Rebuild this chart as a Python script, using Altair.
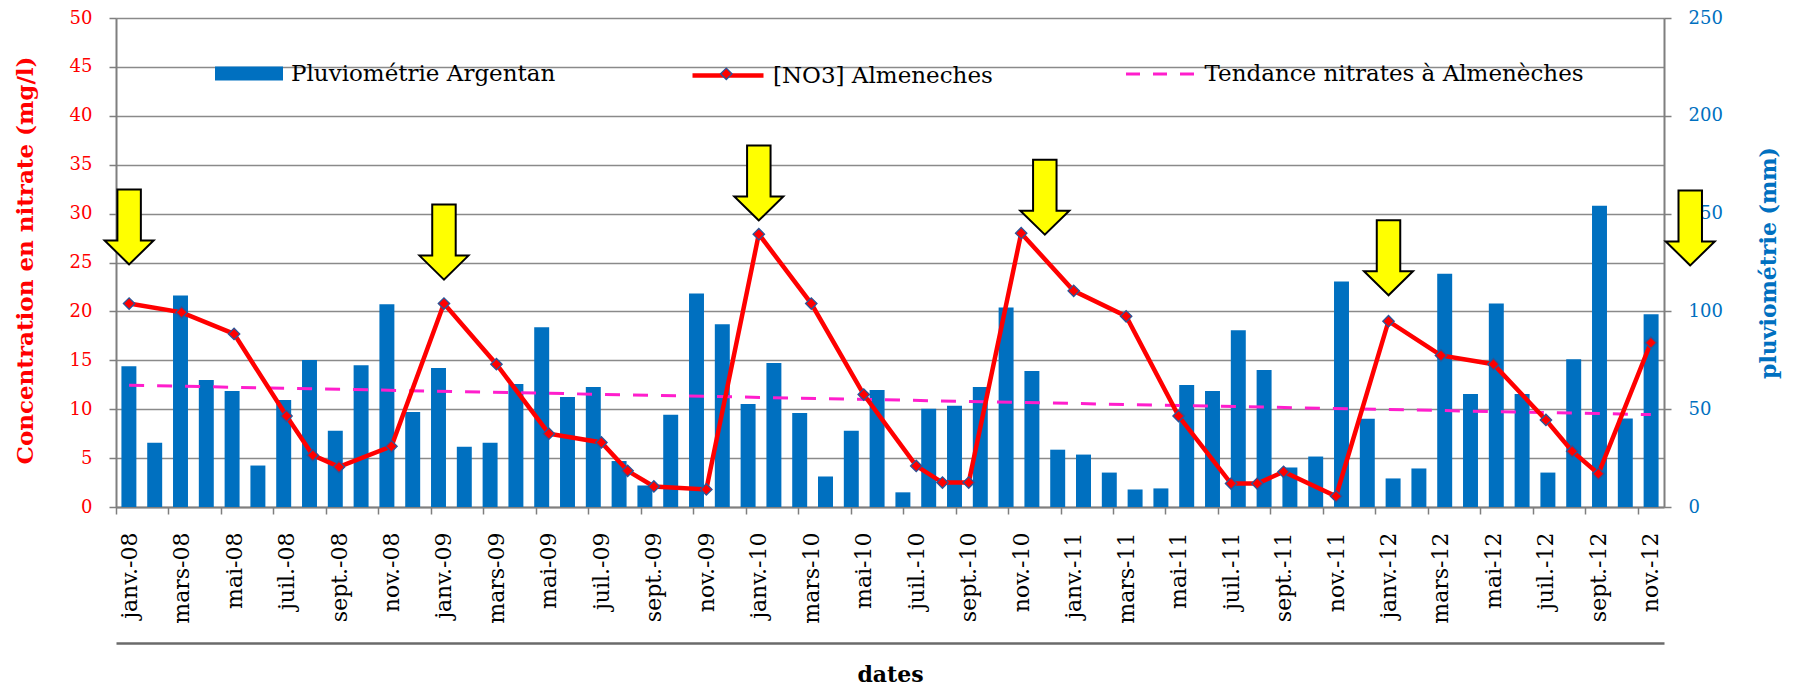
import altair as alt
import pandas as pd

# ---------------- data ----------------
mois_noms = ["janv.", "févr.", "mars", "avr.", "mai", "juin",
             "juil.", "août", "sept.", "oct.", "nov.", "déc."]
annees = ["08", "09", "10", "11", "12"]
mois_pluie = [f"{m}-{a}" for a in annees for m in mois_noms]      # 60 months (bars)
mois_axe = mois_pluie[:59]                                          # janv.-08 .. nov.-12
mois_etiquettes = mois_axe[::2]

pluie_mm = [72.0, 32.9, 108.1, 64.9, 59.3, 21.2, 54.7, 75.1, 39.0, 72.5, 103.6, 48.6,
            71.0, 30.8, 32.9, 62.9, 91.9, 56.3, 61.4, 23.5, 11.0, 47.1, 109.2, 93.4,
            52.7, 73.6, 48.1, 15.6, 39.0, 59.8, 7.5, 50.2, 51.7, 61.4, 102.0, 69.5,
            29.3, 26.8, 17.6, 9.0, 9.5, 62.4, 59.3, 90.3, 70.0, 20.2, 25.8, 115.3,
            45.1, 14.6, 19.7, 119.3, 57.8, 104.1, 57.8, 17.6, 75.6, 154.0, 45.3, 98.6]

no3_mois = ["janv.-08", "mars-08", "mai-08", "juil.-08", "août-08", "sept.-08", "nov.-08",
            "janv.-09", "mars-09", "mai-09", "juil.-09", "août-09", "sept.-09", "nov.-09",
            "janv.-10", "mars-10", "mai-10", "juil.-10", "août-10", "sept.-10", "nov.-10",
            "janv.-11", "mars-11", "mai-11", "juil.-11", "août-11", "sept.-11", "nov.-11",
            "janv.-12", "mars-12", "mai-12", "juil.-12", "août-12", "sept.-12", "nov.-12"]
no3_val = [20.8, 19.9, 17.7, 9.3, 5.3, 4.1, 6.2,
           20.8, 14.6, 7.5, 6.6, 3.7, 2.1, 1.8,
           27.9, 20.8, 11.5, 4.2, 2.5, 2.5, 28.0,
           22.1, 19.5, 9.3, 2.4, 2.4, 3.6, 1.1,
           19.0, 15.5, 14.6, 8.9, 5.7, 3.4, 16.8]

tendance_mois = ["janv.-08", "nov.-12"]
tendance_val = [12.45, 9.45]

# arrows: month index (0 = janv.-08) and nitrate level of the arrow tip
fleche_mois = [0, 12, 24, 34.9, 48, 59.5]
fleche_niveau = [24.8, 23.25, 29.3, 27.85, 21.65, 24.7]

serie_pluie = "Pluviométrie Argentan"
serie_no3 = "[NO3] Almeneches"
serie_tend = "Tendance nitrates à Almenèches"

# ---------------- frames ----------------
df_pluie = pd.DataFrame({"mois": mois_pluie, "pluie": pluie_mm, "serie": serie_pluie})
df_no3 = pd.DataFrame({"mois": no3_mois, "no3": no3_val,
                       "ordre": [mois_axe.index(m) for m in no3_mois], "serie": serie_no3})
df_tend = pd.DataFrame({"mois": tendance_mois, "no3": tendance_val, "serie": serie_tend})
df_fleche = pd.DataFrame({"pos": fleche_mois, "niveau": fleche_niveau})

W, H = 1548, 489
BAND = W / 59
FONT = "DejaVu Serif"
GRAY = "#7f7f7f"
BLUE = "#0070C0"
RED = "#FF0000"
PINK = "#FF1ECC"

x_point = alt.Scale(type="point", domain=mois_axe, padding=0.5)
y_no3 = alt.Scale(domain=[0, 50], nice=False, zero=True)

legend_common = dict(orient="none", title=None, padding=0, labelFont=FONT,
                     labelFontSize=23, labelColor="black", labelLimit=1000)

# ---------------- bars ----------------
bars = alt.Chart(df_pluie).mark_bar().encode(
    x=alt.X("mois:N", sort=mois_pluie,
            scale=alt.Scale(domain=mois_pluie, paddingInner=0.42, paddingOuter=0.21),
            axis=alt.Axis(orient="bottom", offset=136, labels=False, ticks=False,
                          domainColor="#6a6a6a", domainWidth=2.5,
                          title="dates", titleFont=FONT, titleFontSize=22,
                          titleFontWeight="bold", titleColor="black",
                          titleX=W / 2, titleY=38, titleAlign="center",
                          titleBaseline="alphabetic")),
    y=alt.Y("pluie:Q", scale=alt.Scale(domain=[0, 250], nice=False),
            axis=alt.Axis(orient="right", values=[0, 50, 100, 150, 200, 250], grid=False,
                          domainColor=GRAY, domainWidth=2, tickColor=GRAY, tickSize=7,
                          tickWidth=1.5, labelColor=BLUE, labelFont=FONT, labelFontSize=18,
                          labelPadding=17, title="pluviométrie (mm)", titleColor=BLUE,
                          titleFont=FONT, titleFontSize=22, titleFontWeight="bold",
                          titleAngle=270, titleX=104, titleY=H / 2, titleAlign="center",
                          titleBaseline="middle")),
    color=alt.Color("serie:N", scale=alt.Scale(domain=[serie_pluie], range=[BLUE]),
                    legend=alt.Legend(legendX=99, legendY=21.5,
                                      symbolType="M-1,-0.206H1V0.206H-1Z",
                                      symbolSize=4624, symbolStrokeWidth=0,
                                      labelOffset=8, **legend_common)),
)

# ---------------- trend ----------------
trend = alt.Chart(df_tend).mark_line(strokeDash=[15, 13], strokeWidth=3).encode(
    x=alt.X("mois:N", scale=x_point, axis=None),
    y=alt.Y("no3:Q", scale=y_no3, axis=None),
    color=alt.Color("serie:N", scale=alt.Scale(domain=[serie_tend], range=[PINK]),
                    legend=alt.Legend(legendX=1008.5, legendY=20, symbolType="M-1,0H1",
                                      symbolSize=4761, symbolStrokeWidth=3,
                                      symbolDash=[14, 13], labelOffset=8,
                                      **legend_common)),
)

# ---------------- nitrate line ----------------
line = alt.Chart(df_no3).mark_line(strokeWidth=4.5).encode(
    x=alt.X("mois:N", scale=x_point,
            axis=alt.Axis(orient="bottom", values=mois_etiquettes, title=None,
                          tickOffset=-BAND / 2, labelOffset=BAND / 2,
                          tickSize=7, tickColor=GRAY, tickWidth=1.5,
                          domainColor=GRAY, domainWidth=2,
                          labelAngle=-90, labelFont=FONT, labelFontSize=22,
                          labelColor="black", labelPadding=18, grid=False)),
    y=alt.Y("no3:Q", scale=y_no3,
            axis=alt.Axis(orient="left", values=list(range(0, 51, 5)), grid=True,
                          gridColor="#8a8a8a", gridWidth=1.5,
                          domainColor=GRAY, domainWidth=2, tickColor=GRAY, tickSize=7,
                          tickWidth=1.5, labelColor=RED, labelFont=FONT, labelFontSize=18,
                          labelPadding=17, title="Concentration en nitrate (mg/l)",
                          titleColor=RED, titleFont=FONT, titleFontSize=23,
                          titleFontWeight="bold", titleAngle=270, titleX=-91,
                          titleY=242, titleAlign="center", titleBaseline="middle")),
    order=alt.Order("ordre:Q"),
    color=alt.Color("serie:N", scale=alt.Scale(domain=[serie_no3], range=[RED]),
                    legend=alt.Legend(legendX=574, legendY=19.5, symbolType="M-1,0H1",
                                      symbolSize=5041, symbolStrokeWidth=4.5,
                                      labelOffset=7, **legend_common)),
)

points = alt.Chart(df_no3).mark_point(shape="diamond", filled=True, size=130,
                                      stroke="#2A5699", strokeWidth=1.3, opacity=1).encode(
    x=alt.X("mois:N", scale=x_point, axis=None),
    y=alt.Y("no3:Q", scale=y_no3, axis=None),
    color=alt.Color("serie:N", scale=alt.Scale(domain=[serie_no3], range=[RED]),
                    legend=alt.Legend(orient="none", title=None, padding=0,
                                      legendX=603.8, legendY=49.3, symbolType="diamond",
                                      symbolSize=130, symbolStrokeColor="#2A5699",
                                      symbolStrokeWidth=1.3, labelFontSize=1,
                                      labelExpr="''")),
)

# ---------------- arrows ----------------
arrow_path = ("M0,0 L-0.653,-0.64 L-0.313,-0.64 L-0.313,-2 L0.313,-2 "
              "L0.313,-0.64 L0.653,-0.64 Z")
arrows = alt.Chart(df_fleche).mark_point(shape=arrow_path, size=5625, filled=True,
                                         color="#FFFF00", stroke="black",
                                         strokeWidth=2, opacity=1).encode(
    x=alt.X("pos:Q", scale=alt.Scale(domain=[-0.5, 58.5], nice=False, zero=False), axis=None),
    y=alt.Y("niveau:Q", scale=y_no3, axis=None),
)

chart = alt.layer(bars, trend, line, points, arrows).resolve_scale(
    x="independent", y="independent", color="independent"
).resolve_legend(color="independent").properties(
    width=W, height=H,
    padding={"left": 108, "top": 10, "right": 122, "bottom": 179},
    autosize=alt.AutoSizeParams(type="none"),
).configure_view(stroke=None).configure(background="white")

chart.save("out.html", embed_options={"renderer": "svg", "actions": False})
